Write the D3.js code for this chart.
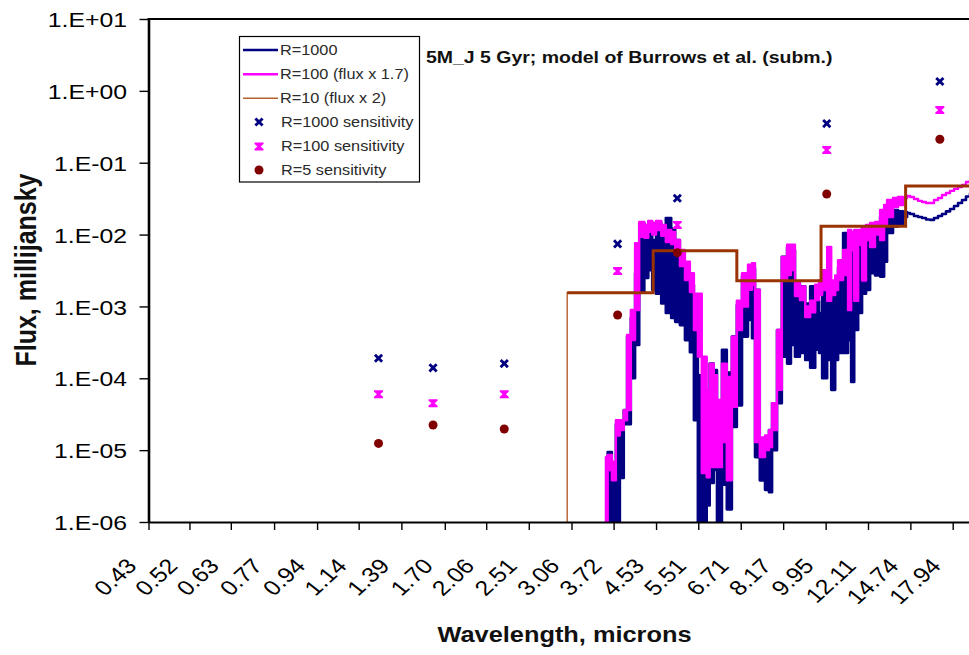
<!DOCTYPE html>
<html><head><meta charset="utf-8">
<script src="https://cdn.jsdelivr.net/npm/d3@7"></script>
<style>
body{margin:0;background:#fff;}
svg{display:block;}
text{font-family:"Liberation Sans",Arial,Helvetica,sans-serif;}
</style>
</head><body>
<svg id="chart" width="969" height="655"></svg>
<script>
// ---------------- data ----------------
const xTickValues = [0.43,0.52,0.63,0.77,0.94,1.14,1.39,1.70,2.06,2.51,3.06,3.72,4.53,5.51,6.71,8.17,9.95,12.11,14.74,17.94];
const yTickValues = [1e1,1e0,1e-1,1e-2,1e-3,1e-4,1e-5,1e-6];
const yTickLabels = ["1.E+01","1.E+00","1.E-01","1.E-02","1.E-03","1.E-04","1.E-05","1.E-06"];

// wavelength grid (microns) of the model spectra
const wavelength = [3.59,3.62,3.69,3.76,3.83,3.90,3.96,4.03,4.11,4.19,4.29,4.37,4.45,4.53,4.64,4.74,4.86,4.95,5.06,5.18,
 5.30,5.40,5.50,5.60,5.73,5.81,5.92,6.01,6.15,6.29,6.44,6.59,6.75,6.94,7.07,7.17,7.33,7.51,7.65,7.76,
 7.94,8.12,8.32,8.47,8.63,8.83,9.05,9.26,9.48,9.65,9.79,10.02,10.21,10.40,10.54,10.79,11.04,11.20,11.36,11.57,
 11.78,12.00,12.23,12.51,12.81,13.05,13.23,13.60,13.92,14.25,14.52,14.72,14.99,15.28,15.56,15.85,16.15,16.45,16.76,17.07,
 17.39,17.72,18.05,18.39,18.73,19.08,19.44,19.89];

// R=1000 spectrum: upper / lower envelope of flux in each wavelength bin (mJy)
const r1000Max = [null,9.4e-6,4.1e-6,2.3e-5,2.4e-5,3.6e-5,3.8e-4,6.9e-4,2.9e-3,1.45e-2,1.0e-2,1.5e-2,8.4e-3,1.5e-2,1.3e-2,1.7e-2,1.2e-2,8.4e-3,3.4e-3,2.7e-3,
 2.0e-3,6.9e-4,1.1e-4,3.6e-5,5.8e-5,1.6e-4,1.3e-4,2.6e-5,2.5e-4,1.2e-4,3.8e-4,1.05e-3,2.6e-3,3.0e-3,3.4e-3,1.7e-3,1.3e-5,1.4e-5,1.9e-5,4.5e-5,
 4.7e-4,4.9e-3,6.7e-3,6.1e-3,2.1e-3,1.9e-3,1.1e-3,1.9e-3,1.2e-3,8.1e-4,2.3e-3,1.5e-3,1.9e-3,1.9e-3,3.5e-3,1.05e-2,9.3e-3,8.4e-3,1.0e-2,1.05e-2,
 1.3e-2,1.16e-2,1.05e-2,1.16e-2,1.76e-2,1.76e-2,2.0e-2,2.2e-2,2.1e-2,2.06e-2,2.0e-2,1.93e-2,1.81e-2,1.76e-2,1.70e-2,1.62e-2,1.60e-2,1.70e-2,1.81e-2,1.93e-2,
 2.10e-2,2.27e-2,2.5e-2,2.75e-2,3.03e-2,3.39e-2,3.73e-2,4.18e-2];
const r1000Min = [null,7e-7,7e-7,7e-7,4.1e-6,2.3e-5,2.3e-5,1.0e-4,2.9e-4,1.6e-3,2.5e-3,3.2e-3,1.7e-3,1.5e-3,1.1e-3,8.1e-4,6.9e-4,6.1e-4,5.5e-4,3.4e-4,
 2.3e-4,2.6e-5,7e-7,7e-7,1.7e-6,3.5e-6,5.3e-6,7e-7,3.3e-6,1.5e-6,2.1e-5,4.2e-5,3.8e-4,6.5e-4,3.6e-4,8.0e-6,3.8e-6,2.8e-6,2.6e-6,1.0e-5,
 4.5e-5,2.0e-4,1.6e-4,2.9e-4,2.0e-4,2.25e-4,1.8e-4,1.4e-4,2.5e-4,2.25e-4,1.0e-4,1.8e-4,6.9e-5,1.8e-4,2.25e-4,2.25e-4,3.4e-4,8.9e-5,4.7e-4,8.1e-4,
 1.5e-3,1.7e-3,2.9e-3,2.7e-3,2.6e-3,4.2e-3,1.05e-2,1.3e-2,1.36e-2,1.76e-2,2.0e-2,1.93e-2,1.81e-2,1.76e-2,1.70e-2,1.62e-2,1.60e-2,1.70e-2,1.81e-2,1.93e-2,
 2.10e-2,2.27e-2,2.5e-2,2.75e-2,3.03e-2,3.39e-2,3.73e-2,4.18e-2];

// R=100 spectrum (flux x 1.7): upper / lower envelope
const r100Max = [8.0e-6,8.6e-6,6.9e-6,2.6e-5,2.6e-5,3.6e-5,4.0e-4,8.9e-4,7.6e-3,1.5e-2,1.36e-2,1.55e-2,1.45e-2,1.55e-2,1.36e-2,1.16e-2,1.09e-2,8.4e-3,6.1e-3,4.2e-3,
 2.9e-3,1.5e-3,1.5e-3,2.0e-4,6.9e-5,1.6e-4,1.1e-4,5.0e-5,1.6e-4,1.04e-4,3.8e-4,1.2e-3,2.9e-3,3.8e-3,4.0e-3,1.7e-3,1.5e-5,1.6e-5,1.9e-5,4.5e-5,
 4.7e-4,4.9e-3,7.2e-3,7.2e-3,2.1e-3,1.9e-3,1.0e-3,1.2e-3,2.0e-3,2.3e-3,3.2e-3,6.7e-3,2.3e-3,2.7e-3,4.4e-3,6.1e-3,1.16e-2,1.09e-2,1.16e-2,1.16e-2,
 1.28e-2,1.36e-2,1.45e-2,1.5e-2,2.2e-2,2.58e-2,3.03e-2,3.23e-2,3.34e-2,3.23e-2,3.45e-2,3.34e-2,3.13e-2,2.94e-2,2.84e-2,2.75e-2,2.75e-2,3.03e-2,3.23e-2,3.56e-2,
 3.79e-2,4.05e-2,4.32e-2,4.6e-2,4.9e-2,5.4e-2,5.76e-2,6.3e-2];
const r100Min = [7e-7,5.3e-6,3.8e-6,1.6e-5,1.9e-5,2.6e-5,3.6e-5,3.4e-4,8.9e-4,9.3e-3,9.0e-3,1.09e-2,1.0e-2,1.16e-2,9.6e-3,7.9e-3,7.4e-3,5.4e-3,3.65e-3,2.33e-3,
 1.59e-3,4.7e-4,2.0e-4,4.8e-6,4.2e-6,5.8e-6,5.8e-6,5.8e-6,1.3e-5,3.8e-6,4.0e-5,4.7e-4,1.0e-3,1.7e-3,2.0e-3,1.3e-5,8.0e-6,1.0e-5,1.1e-5,1.9e-5,
 6.9e-5,2.33e-3,2.74e-3,3.2e-3,1.4e-3,1.23e-3,7.1e-4,8.3e-4,1.23e-3,1.44e-3,1.69e-3,1.2e-3,1.44e-3,1.69e-3,2.33e-3,2.74e-3,8.9e-4,6.1e-3,1.2e-3,7.2e-3,
 2.3e-3,8.4e-3,6.7e-3,1.0e-2,8.4e-3,1.36e-2,1.76e-2,2.42e-2,2.58e-2,3.23e-2,3.45e-2,3.34e-2,3.13e-2,2.94e-2,2.84e-2,2.75e-2,2.75e-2,3.03e-2,3.23e-2,3.56e-2,
 3.79e-2,4.05e-2,4.32e-2,4.6e-2,4.9e-2,5.4e-2,5.76e-2,6.3e-2];

// R=10 spectrum (flux x 2), step bins
const r10Wavelength = [2.50,3.00,4.47,6.59,9.74,14.42,19.89];
const r10Flux = [1e-7,1.55e-3,5.97e-3,2.28e-3,1.31e-2,4.74e-2,4.74e-2];

// sensitivities
const sensWavelength = [1.25,1.61,2.24,3.79,5.00,10.0,16.9];
const sens1000 = [1.9e-4,1.4e-4,1.6e-4,7.4e-3,3.2e-2,3.5e-1,1.35];
const sens100 = [6.0e-5,4.5e-5,6.0e-5,3.1e-3,1.36e-2,1.5e-1,5.4e-1];
const sens5 = [1.24e-5,2.24e-5,1.97e-5,7.6e-4,5.6e-3,3.67e-2,2.12e-1];

// ---------------- drawing ----------------
const S = 1.18; // horizontal glyph stretch of the original
const W = 969, H = 655;
const plot = {left:148.5, right:972, top:19, bottom:522};
const NAVY = "#000080", MAG = "#ff00ff", RUST = "#993300", RUST_THIN = "#b5602f", DRED = "#800000";

const svg = d3.select("#chart");
svg.append("rect").attr("width", W).attr("height", H).attr("fill", "#fff");

const x = d3.scaleLog().domain([0.43, 19.62]).range([plot.left, plot.right]);
const y = d3.scaleLog().domain([1e-6, 10]).range([plot.bottom, plot.top]);

svg.append("defs").append("clipPath").attr("id", "clip")
  .append("rect").attr("x", plot.left).attr("y", plot.top)
  .attr("width", plot.right - plot.left).attr("height", plot.bottom - plot.top);

const gData = svg.append("g").attr("clip-path", "url(#clip)");

const spec = wavelength.map((w, i) => ({w, n1: r1000Max[i], n0: r1000Min[i], m1: r100Max[i], m0: r100Min[i]}));

const areaN = d3.area().defined(d => d.n1 != null)
  .x(d => x(d.w)).y0(d => y(d.n0)).y1(d => y(d.n1)).curve(d3.curveStepAfter);
const areaM = d3.area().defined(d => d.m1 != null)
  .x(d => x(d.w)).y0(d => y(d.m0)).y1(d => y(d.m1)).curve(d3.curveStepAfter);

gData.append("path").datum(spec).attr("d", areaN)
  .attr("fill", NAVY).attr("stroke", NAVY).attr("stroke-width", 2.6).attr("stroke-linejoin", "round");
gData.append("path").datum(spec).attr("d", areaM)
  .attr("fill", MAG).attr("stroke", MAG).attr("stroke-width", 2.4).attr("stroke-linejoin", "round");

const r10 = r10Wavelength.map((w, i) => ({w, f: r10Flux[i]}));
const stepLine = d3.line().x(d => x(d.w)).y(d => y(d.f)).curve(d3.curveStepAfter);
gData.append("path").datum(r10).attr("d", stepLine)
  .attr("fill", "none").attr("stroke", RUST_THIN).attr("stroke-width", 1.4);
gData.append("path").datum(r10.slice(1)).attr("d", stepLine)
  .attr("fill", "none").attr("stroke", RUST).attr("stroke-width", 3);

// axes
const yAxis = d3.axisLeft(y).tickValues(yTickValues)
  .tickFormat((d, i) => yTickLabels[i]).tickSize(9).tickSizeOuter(0);
const gy = svg.append("g").attr("transform", `translate(${plot.left},0)`).call(yAxis);
gy.select(".domain").attr("stroke", "#000").attr("stroke-width", 2.6);
gy.selectAll(".tick line").attr("stroke", "#000").attr("stroke-width", 1.4);
gy.selectAll(".tick text")
  .attr("x", null)
  .attr("transform", `translate(-21.5,0) scale(${S},1)`)
  .attr("dy", "0.36em")
  .attr("text-anchor", "end")
  .attr("font-size", 21).attr("fill", "#000");

const xAxis = d3.axisBottom(x).tickValues(xTickValues)
  .tickFormat(d3.format(".2f")).tickSize(8).tickSizeOuter(0);
const gx = svg.append("g").attr("transform", `translate(0,${plot.bottom})`).call(xAxis);
gx.select(".domain").attr("stroke", "#000").attr("stroke-width", 2);
gx.selectAll(".tick line").attr("stroke", "#000").attr("stroke-width", 1.4);
gx.selectAll(".tick text")
  .attr("y", 0).attr("dy", 0)
  .attr("transform", `translate(-11,45) scale(${S},1) rotate(-47)`)
  .attr("text-anchor", "end")
  .attr("font-size", 21).attr("fill", "#000");

// top border of plot area
svg.append("line").attr("x1", plot.left - 1).attr("x2", plot.right)
  .attr("y1", plot.top).attr("y2", plot.top).attr("stroke", "#000").attr("stroke-width", 2);

// markers
const xMark = "M-4.6,-2.6L-2.6,-4.6L0,-2L2.6,-4.6L4.6,-2.6L2,0L4.6,2.6L2.6,4.6L0,2L-2.6,4.6L-4.6,2.6L-2,0Z";
const hourglass = "M-4.5,-4L4.5,-4L4.5,-2.4L1.6,0L4.5,2.4L4.5,4L-4.5,4L-4.5,2.4L-1.6,0L-4.5,-2.4Z";
function markers(vals, path, color) {
  svg.append("g").selectAll("path").data(vals).join("path")
    .attr("transform", (d, i) => `translate(${x(sensWavelength[i])},${y(d)})`)
    .attr("d", path).attr("fill", color);
}
function circles(vals, color) {
  svg.append("g").selectAll("circle").data(vals).join("circle")
    .attr("cx", (d, i) => x(sensWavelength[i])).attr("cy", d => y(d))
    .attr("r", 4.5).attr("fill", color);
}
markers(sens1000, xMark, NAVY);
markers(sens100, hourglass, MAG);
circles(sens5, DRED);

// legend
const lg = svg.append("g");
lg.append("rect").attr("x", 239.5).attr("y", 36.5).attr("width", 180).attr("height", 145.5)
  .attr("fill", "#fff").attr("stroke", "#000").attr("stroke-width", 1.2);
const legendItems = [
  {label: "R=1000", kind: "line", color: NAVY, w: 2.6},
  {label: "R=100 (flux x 1.7)", kind: "line", color: MAG, w: 2.6},
  {label: "R=10 (flux x 2)", kind: "line", color: RUST_THIN, w: 1.6},
  {label: "R=1000 sensitivity", kind: "x", color: NAVY},
  {label: "R=100 sensitivity", kind: "hg", color: MAG},
  {label: "R=5 sensitivity", kind: "c", color: DRED}
];
const legendY = [50, 74.3, 98.3, 122, 146.5, 170];
legendItems.forEach((it, i) => {
  const cy = legendY[i];
  if (it.kind === "line") {
    lg.append("line").attr("x1", 243).attr("x2", 278).attr("y1", cy).attr("y2", cy)
      .attr("stroke", it.color).attr("stroke-width", it.w);
  } else if (it.kind === "c") {
    lg.append("circle").attr("cx", 259).attr("cy", cy).attr("r", 4.5).attr("fill", it.color);
  } else {
    lg.append("path").attr("transform", `translate(259,${cy})`)
      .attr("d", it.kind === "x" ? xMark : hourglass).attr("fill", it.color);
  }
  lg.append("text").attr("transform", `translate(${i < 3 ? 280 : 281},${cy}) scale(${S},1)`)
    .attr("dy", "0.36em").attr("font-size", 13.8).attr("fill", "#2a2a2a").text(it.label);
});

// titles
svg.append("text").attr("transform", `translate(426,62.5) scale(${S},1)`)
  .attr("font-size", 16.5).attr("font-weight", "bold").attr("fill", "#111")
  .text("5M_J 5 Gyr; model of Burrows et al. (subm.)");
svg.append("text").attr("transform", `translate(564.5,642) scale(${S},1)`)
  .attr("text-anchor", "middle").attr("font-size", 21.5).attr("font-weight", "bold").attr("fill", "#111")
  .text("Wavelength, microns");
svg.append("text").attr("transform", `translate(36,270) scale(${S},1) rotate(-90)`)
  .attr("text-anchor", "middle").attr("font-size", 25).attr("font-weight", "bold").attr("fill", "#111")
  .text("Flux, millijansky");
</script>
</body></html>
